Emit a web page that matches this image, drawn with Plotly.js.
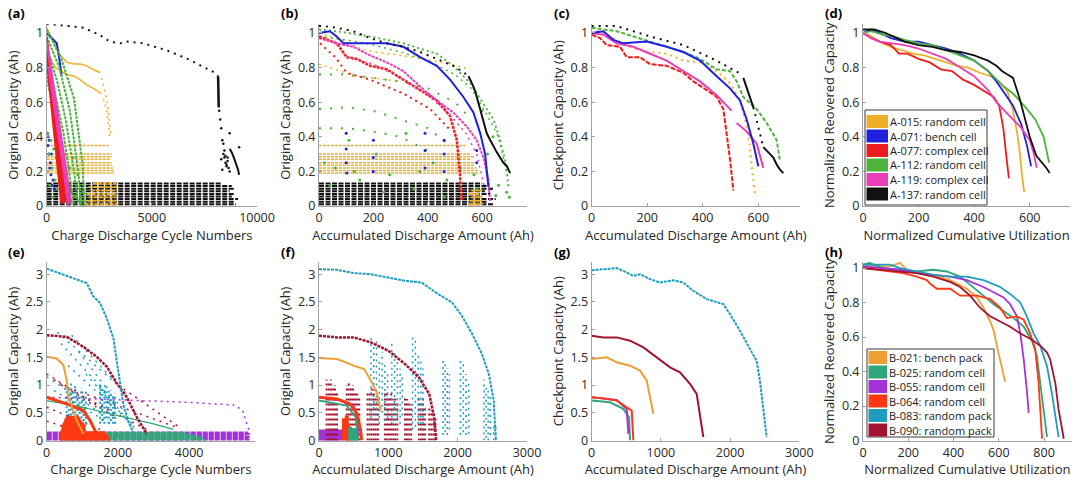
<!DOCTYPE html>
<html><head><meta charset="utf-8">
<script src="https://cdn.plot.ly/plotly-3.0.1.min.js"></script>
<style>html,body{margin:0;padding:0;background:#fff}#chart{width:1080px;height:486px}</style>
</head><body><div id="chart"></div>
<script>
// ---------- names & colours ----------
const cellNames = ['A-015: random cell','A-071: bench cell','A-077: complex cell','A-112: random cell','A-119: complex cell','A-137: random cell'];
const cellColors = ['#EDB027','#2020E0','#EE1C1C','#4DB33D','#EC3DB8','#111111'];
const packNames = ['B-021: bench pack','B-025: random cell','B-055: random cell','B-064: random cell','B-083: random pack','B-090: random pack'];
const packColors = ['#EF9E35','#2FA67A','#A332D8','#FF3814','#1E9DBF','#A3122E'];

// ---------- panel (a): original capacity vs cycle number ----------
const a137TopX = [0,200,1000,1750,2500,3000,3500,3800,4600,5700,6700,7500,8000,8150];
const a137TopY = [1.05,1.05,1.04,1.03,0.99,0.95,0.94,0.95,0.94,0.90,0.85,0.80,0.77,0.75];
const a137VertX = [8150,8160,8170,8180];
const a137VertY = [0.75,0.68,0.62,0.57];
const a137TailX = [8700,8800,8900,9000,9100,9150];
const a137TailY = [0.33,0.31,0.28,0.25,0.21,0.18];
const a137ScatX = [8200,8250,8300,8300,8350,8350,8400,8400,8450,8450,8500,8500,8550,8550,8600,8600,8650,8700,8700,9150];
const a137ScatY = [0.55,0.50,0.45,0.27,0.38,0.21,0.30,0.36,0.28,0.32,0.25,0.29,0.24,0.23,0.28,0.26,0.22,0.42,0.20,0.34];
const a137Levels = [0.01,0.025,0.04,0.055,0.07,0.085,0.10,0.115,0.13];
const a137Ends = [9000,8900,9100,8800,8950,8700,8900,8800,8300];
const a015C1X = [0,300,600,950,1300,1600,1900,2200,2540];
const a015C1Y = [1.03,0.95,0.88,0.83,0.82,0.82,0.81,0.79,0.77];
const a015D1X = [2600,2700,2800,2900,2950,3000,3050];
const a015D1Y = [0.74,0.70,0.65,0.58,0.52,0.46,0.42];
const a015C2X = [0,400,950,1300,1590,1900,2220,2600];
const a015C2Y = [0.90,0.80,0.76,0.75,0.73,0.70,0.68,0.65];
const a015D2X = [2700,2800,2850,2900,2950,3000];
const a015D2Y = [0.62,0.58,0.55,0.50,0.45,0.40];
const a015Levels = [0.35,0.30,0.285,0.27,0.25,0.235,0.22,0.205,0.19];
const a015Ends = [2950,3100,3100,3050,3100,3100,3150,3200,3200];
const a015LowLevels = [0.01,0.03,0.05,0.07,0.09,0.11,0.13];
const a015LowStarts = [1800,1900,2000,1900,2100,2000,2200];
const a015LowEnds = [3400,3350,3300,3400,3300,3350,3300];
const a071X = [0,250,480,600,714];
const a071Y = [1.0,0.97,0.94,0.85,0.75];
const a071PtsX = [30,60,100,150,200,250,80,120,180,220,300,350];
const a071PtsY = [0.42,0.35,0.30,0.22,0.18,0.12,0.40,0.38,0.25,0.30,0.15,0.10];
const a112L1X = [0,700,1300,1700,1800], a112L1Y = [1.02,0.85,0.62,0.25,0.0];
const a112L2X = [0,600,1100,1500,1650], a112L2Y = [0.98,0.80,0.55,0.20,0.0];
const a112L3X = [0,500,900,1300,1500], a112L3Y = [0.92,0.72,0.50,0.20,0.02];
const a112L4X = [0,400,800,1100,1300], a112L4Y = [0.85,0.65,0.42,0.18,0.0];
const a112L5X = [0,300,700,1000], a112L5Y = [0.75,0.55,0.30,0.05];
const a112PtsX = [50,120,200,260,330,400,450,520,600,650,720,800,880,950,1020,1100,1180,1250,1320,1400,1480,1550,1620,1700,150,300,500,700,900,1150,1350,1600];
const a112PtsY = [0.42,0.30,0.38,0.22,0.33,0.15,0.28,0.40,0.20,0.35,0.12,0.25,0.30,0.18,0.10,0.22,0.08,0.28,0.14,0.05,0.18,0.10,0.04,0.08,0.12,0.05,0.10,0.06,0.08,0.02,0.06,0.01];
const a077L1X = [0,300,600,900], a077L1Y = [0.97,0.66,0.33,0.02];
const a077L2X = [0,250,500,800], a077L2Y = [0.92,0.64,0.34,0.02];
const a077L3X = [0,200,450,700], a077L3Y = [0.86,0.62,0.32,0.02];
const a119L1X = [0,400,800,1150], a119L1Y = [0.95,0.62,0.30,0.02];
const a119L2X = [100,450,800,1050], a119L2Y = [0.80,0.50,0.20,0.0];

// ---------- panel (b): original capacity vs accumulated discharge ----------
const b137TopX = [0,16,65,126,188,249,310,372,433,494,543];
const b137TopY = [1.04,1.04,1.03,1.01,0.97,0.94,0.92,0.89,0.85,0.81,0.76];
const b137SolidX = [550,560,568,575,580,593,605,617,630,642,654,666,678,691,703];
const b137SolidY = [0.75,0.72,0.69,0.66,0.63,0.56,0.49,0.42,0.38,0.34,0.31,0.28,0.25,0.23,0.19];
const b137Ends = [640,620,650,600,630,610,640,620,600];
const b071X = [0,40,65,90,126,188,249,310,372,433,482,531,568,593,611,623];
const b071Y = [1.0,1.01,0.98,0.94,0.94,0.94,0.94,0.92,0.86,0.81,0.73,0.63,0.54,0.42,0.30,0.11];
const b071PtsX = [100,100,100,102,200,200,200,390,390,390,460,460,460,580,580];
const b071PtsY = [0.42,0.33,0.25,0.19,0.38,0.28,0.20,0.42,0.32,0.22,0.38,0.30,0.20,0.32,0.25];
const b077aX = [0,65,102,139,188,249,310,372,433,482,507,519,525];
const b077aY = [0.98,0.94,0.86,0.85,0.81,0.79,0.73,0.67,0.61,0.52,0.38,0.17,0.03];
const b077bX = [4,60,102,188,310,409,482];
const b077bY = [0.94,0.86,0.77,0.73,0.65,0.56,0.44];
const b119aX = [0,65,126,188,249,310,372,433,494,543,580,605,623,629];
const b119aY = [0.97,0.94,0.92,0.87,0.83,0.78,0.69,0.61,0.54,0.46,0.38,0.28,0.15,0.03];
const b119bX = [100,200,300,400,480,540,580,610];
const b119bY = [0.86,0.82,0.74,0.64,0.53,0.42,0.30,0.10];
const b112X = [0,65,188,310,433,494,556,605,642,666,685,697];
const b112Y = [1.02,1.01,0.98,0.94,0.88,0.81,0.71,0.59,0.50,0.38,0.26,0.11];
const b112BX = [0,100,200,300,400,500,560,620,660,690];
const b112BY = [0.98,0.96,0.93,0.89,0.84,0.76,0.68,0.52,0.40,0.20];
const b112Arc1X = [0,100,200,300,400,500,560], b112Arc1Y = [0.76,0.76,0.74,0.72,0.68,0.60,0.50];
const b112Arc2X = [0,100,200,300,400,480], b112Arc2Y = [0.56,0.57,0.55,0.50,0.45,0.35];
const b112Arc3X = [0,100,200,300,400], b112Arc3Y = [0.45,0.45,0.43,0.40,0.32];
const b112PtsX = [20,60,110,150,210,260,320,370,420,470,520,570,620,660,690,40,130,240,350,460,580,650,600,640,680,700];
const b112PtsY = [0.25,0.22,0.38,0.15,0.30,0.18,0.42,0.20,0.25,0.15,0.22,0.18,0.30,0.12,0.08,0.12,0.20,0.08,0.10,0.05,0.10,0.06,0.55,0.40,0.25,0.05];
const b015TopX = [0,100,163,250,350,450,556], b015TopY = [1.0,0.95,0.90,0.88,0.86,0.83,0.79];
const b015SecX = [0,60,126,200,300], b015SecY = [0.82,0.79,0.75,0.74,0.72];
const b015Ends = [540,560,570,560,575,570,580,590,590];
const b015LowLevels = [0.01,0.03,0.05,0.07,0.09];
const b015LowStarts = [550,555,560,550,560];
const b015LowEnds = [600,600,595,590,600];

// ---------- panel (c): checkpoint capacity ----------
const c137DotX = [0,90,210,330,450,540,null,582,600,618];
const c137DotY = [1.04,1.04,0.98,0.93,0.84,0.76,null,0.57,0.45,0.34];
const c137SolidX = [546,570,582,null,618,630,642,654,666,678,690];
const c137SolidY = [0.74,0.63,0.57,null,0.34,0.32,0.30,0.28,0.24,0.21,0.19];
const c112X = [0,90,210,330,390,450,498,522,546,594,630,666,678];
const c112Y = [1.03,1.01,0.95,0.89,0.85,0.79,0.78,0.72,0.63,0.56,0.48,0.38,0.26];
const c071X = [0,42,78,114,198,270,330,390,450,498,534,558,582,600];
const c071Y = [1.0,1.01,0.96,0.94,0.95,0.92,0.89,0.84,0.75,0.68,0.61,0.50,0.36,0.23];
const c119X = [0,42,90,150,210,270,330,390,450,504,null,522,558,594,618];
const c119Y = [1.0,0.99,0.94,0.92,0.88,0.84,0.78,0.72,0.64,0.55,null,0.48,0.43,0.36,0.22];
const c077X = [0,30,54,102,126,174,210,270,330,366,414,450,474,486,498,510];
const c077Y = [0.99,0.97,0.93,0.92,0.86,0.86,0.82,0.81,0.77,0.72,0.67,0.63,0.56,0.42,0.27,0.09];
const c015X = [0,90,150,210,270,330,390,450,498,534,558,570,576,588];
const c015Y = [1.03,0.96,0.91,0.89,0.88,0.84,0.83,0.78,0.71,0.61,0.46,0.34,0.23,0.07];

// ---------- panel (d): normalized ----------
const d015X = [0,30,60,100,140,180,220,260,300,340,380,420,460,490,520,540,555,565,572,580];
const d015Y = [1.0,0.98,0.95,0.92,0.90,0.88,0.87,0.85,0.83,0.81,0.80,0.77,0.75,0.72,0.66,0.55,0.42,0.30,0.18,0.08];
const d071X = [0,30,60,100,150,200,250,300,350,400,450,480,510,540,570,590,605];
const d071Y = [1.0,1.02,1.0,0.97,0.95,0.95,0.93,0.91,0.88,0.84,0.78,0.72,0.65,0.58,0.47,0.35,0.23];
const d077X = [0,30,60,100,130,160,200,240,280,320,360,400,440,470,490,505,515,525];
const d077Y = [1.0,0.97,0.95,0.93,0.88,0.88,0.85,0.83,0.79,0.78,0.73,0.70,0.66,0.63,0.58,0.45,0.30,0.16];
const d112X = [0,30,70,110,150,200,250,300,350,400,450,500,540,580,620,650,670];
const d112Y = [1.0,1.01,0.99,0.98,0.96,0.94,0.93,0.90,0.87,0.84,0.78,0.70,0.65,0.58,0.50,0.40,0.25];
const d119X = [0,30,60,100,150,200,250,300,350,400,450,480,510,540,570,600,615,625];
const d119Y = [1.0,0.97,0.95,0.94,0.93,0.91,0.88,0.85,0.80,0.75,0.67,0.60,0.55,0.50,0.45,0.38,0.30,0.22];
const d137X = [0,40,80,120,150,200,250,300,350,400,450,480,500,520,540,564,585,600,624,645,660,672];
const d137Y = [1.02,1.02,1.0,0.97,0.95,0.93,0.92,0.90,0.89,0.87,0.84,0.81,0.78,0.76,0.74,0.62,0.50,0.40,0.29,0.25,0.22,0.19];

// ---------- panel (e): packs, original capacity vs cycle ----------
const e083X = [0,375,750,1125,1310,1500,1690,1875,1970,2060,2155,2295,2435];
const e083Y = [3.10,3.01,2.93,2.84,2.60,2.48,2.20,1.84,1.42,1.00,0.64,0.34,0.13];
const e090X = [0,560,1030,1405,1690,1970,2250,2530,2810];
const e090Y = [1.90,1.87,1.69,1.51,1.33,1.03,0.78,0.42,0.12];
const e021X = [0,280,470,560,610,700,840,1030];
const e021Y = [1.51,1.48,1.36,1.09,0.78,0.60,0.36,0.12];
const e064X = [0,560,1030,1220,1400,1500];
const e064Y = [0.78,0.66,0.54,0.36,0.12,0.03];
const e055X = [0,2440,3940,5250,5500,5620,5715];
const e055Y = [0.78,0.72,0.69,0.64,0.55,0.30,0.12];
const e025X = [0,1000,2000,3000,3560];
const e025Y = [0.72,0.60,0.45,0.30,0.20];
const e055Levels = [0.015,0.04,0.065,0.09,0.115,0.14], e055Ends = [5700,5650,5700,5600,5700,5650];
const e025Levels = [0.01,0.035,0.06,0.085,0.11,0.135], e025Ends = [4450,4300,4400,4200,4000,3900];
const e064Levels = [0.02,0.06,0.10,0.14,0.18,0.22,0.26,0.30,0.34,0.38,0.42];
const e064Starts = [370,370,380,370,400,420,400,450,480,500,550];
const e064Ends = [1770,1750,1700,1650,1100,1080,1100,1050,1000,950,900];
const e083SegX0 = [300,700,0,600,900,200,1100,1500,400];
const e083SegY0 = [1.95,1.90,1.15,1.35,1.60,0.90,1.20,1.00,1.75];
const e083SegX1 = [2000,2300,1500,2400,2200,1800,2500,2400,1900];
const e083SegY1 = [1.00,0.80,0.50,0.30,0.50,0.30,0.20,0.25,0.70];
const e083ColX = [560,620,680,740,800,860,920,980,1040,1100,1500,1560,1620,1680,1740,1800,1860,1920];
const e083ColLo = [0.40,0.35,0.45,0.30,0.40,0.35,0.30,0.40,0.35,0.30,0.30,0.35,0.30,0.40,0.30,0.35,0.30,0.30];
const e083ColHi = [1.00,0.95,1.05,0.90,1.00,0.90,0.85,0.95,0.80,0.90,1.00,0.95,0.90,1.00,0.85,0.90,0.80,0.85];
const e090SegX0 = [0,0,400,2000,1000,0,200];
const e090SegY0 = [1.20,0.60,1.00,1.00,0.80,0.35,1.10];
const e090SegX1 = [2000,1500,3600,3700,2800,1200,1400];
const e090SegY1 = [0.40,0.20,0.25,0.25,0.20,0.10,0.60];

// ---------- panel (f): packs, original capacity vs discharge ----------
const f083X = [0,260,500,750,1000,1240,1480,1720,1920,2060,2210,2350,2450,2520,2550];
const f083Y = [3.09,3.08,3.02,3.00,2.94,2.88,2.85,2.64,2.49,2.25,1.92,1.56,1.20,0.72,0.0];
const f090X = [0,260,500,750,1000,1240,1440,1590,1660,1690];
const f090Y = [1.89,1.86,1.86,1.77,1.62,1.38,1.14,0.84,0.42,0.0];
const f021X = [0,260,500,650,750,840,890];
const f021Y = [1.49,1.47,1.35,1.29,1.08,0.84,0.54];
const f064X = [0,260,450,550,600,615];
const f064Y = [0.78,0.75,0.66,0.48,0.18,0.0];
const f025X = [0,400,530,560];
const f025Y = [0.72,0.63,0.42,0.0];
const f055X = [0,310,510,555,565];
const f055Y = [0.78,0.72,0.60,0.36,0.06];
const f055Levels = [0.02,0.05,0.08,0.11,0.14,0.17], f055End = 350;
const f064ColX = [360,380,400,420,440], f064ColHi = [0.40,0.35,0.45,0.30,0.25];
const f025ColX = [450,470,490,510,530,550], f025ColHi = [0.25,0.20,0.22,0.18,0.20,0.15];
const f090ColX = [110,140,170,200,230,260, 400,430,460,490,520,550,580, 700,730,760,790,820,850, 950,980,1010,1040,1070,1100,1130, 1240,1270,1300,1330, 1440,1470,1500,1530, 1590,1620,1650,1680];
const f090ColHi = [1.10,1.05,1.10,0.95,1.00,0.90, 1.00,1.05,0.95,1.00,0.90,0.85,0.80, 0.90,0.85,0.95,0.90,0.80,0.75, 0.90,0.85,0.80,0.90,0.75,0.80,0.70, 0.80,0.75,0.70,0.65, 0.80,0.70,0.75,0.60, 0.60,0.55,0.50,0.40];
const f083ColX = [750,790,830,870,910,950,990, 1050,1090,1130,1170,1200, 1350,1390,1430,1470,1500, 1790,1820,1850,1880, 2040,2080,2120,2160, 2380,2410,2440,2470, 2520,2550];
const f083ColLo = [0.40,0.35,0.45,0.30,0.50,0.35,0.40, 0.30,0.35,0.40,0.30,0.45, 0.20,0.25,0.30,0.20,0.30, 0.10,0.15,0.10,0.20, 0.10,0.15,0.10,0.12, 0.00,0.05,0.00,0.10, 0.00,0.00];
const f083ColHi = [1.90,1.70,1.80,1.50,1.60,1.40,1.20, 1.80,1.60,1.50,1.30,1.20, 1.90,1.80,1.60,1.50,1.30, 1.50,1.40,1.30,1.20, 1.50,1.40,1.20,1.10, 1.10,1.00,0.90,0.80, 0.30,0.25];

// ---------- panel (g): packs, checkpoint capacity ----------
const g083X = [0,217,361,506,602,698,843,987,1180,1324,1468,1661,1805,1902,1998,2142,2287,2383,2431,2480,2528];
const g083Y = [3.07,3.09,3.11,3.03,2.97,3.00,2.91,2.85,2.89,2.85,2.70,2.55,2.49,2.46,2.28,1.98,1.65,1.44,1.08,0.60,0.06];
const g090X = [0,169,361,554,747,940,1132,1276,1420,1517,1565,1613];
const g090Y = [1.89,1.86,1.86,1.80,1.68,1.50,1.32,1.23,1.02,0.84,0.48,0.06];
const g021X = [0,217,361,554,698,795,843,891];
const g021Y = [1.47,1.50,1.41,1.35,1.26,1.08,0.78,0.48];
const g064X = [0,169,361,506,578,602];
const g064Y = [0.78,0.76,0.72,0.60,0.54,0.0];
const g055X = [0,361,506,530];
const g055Y = [0.78,0.73,0.57,0.12];
const g025X = [0,265,457,540,554];
const g025Y = [0.72,0.69,0.57,0.42,0.0];

// ---------- panel (h): packs, normalized ----------
const h021X = [0,60,119,164,193,237,311,385,459,503,532,562,577,591,614,628];
const h021Y = [1.02,1.01,1.01,1.03,0.99,0.98,0.96,0.93,0.88,0.83,0.77,0.69,0.64,0.55,0.43,0.34];
const h025X = [0,29,90,164,237,311,370,429,488,532,577,621,665,710,746,768,783,798,813];
const h025Y = [1.02,1.03,1.0,0.99,0.98,0.99,0.98,0.95,0.89,0.84,0.79,0.75,0.71,0.66,0.58,0.49,0.33,0.18,0.02];
const h055X = [0,90,164,237,311,385,459,532,577,621,650,680,695,710,724,732];
const h055Y = [1.01,1.0,0.99,0.97,0.96,0.95,0.93,0.89,0.86,0.83,0.79,0.72,0.62,0.47,0.29,0.16];
const h064X = [0,60,119,178,237,282,296,326,385,429,503,562,606,635,680,710,739,761,776,783,791];
const h064Y = [1.0,0.99,0.98,0.97,0.95,0.93,0.91,0.88,0.88,0.84,0.84,0.82,0.77,0.71,0.72,0.70,0.62,0.53,0.33,0.18,0.01];
const h083X = [0,60,119,164,237,311,385,459,532,606,650,695,724,754,783,813,835,850,864];
const h083Y = [1.02,1.02,1.02,1.0,0.98,0.96,0.95,0.95,0.93,0.89,0.85,0.80,0.72,0.62,0.55,0.43,0.27,0.14,0.02];
const h090X = [0,90,164,237,311,385,429,473,517,562,606,650,695,739,783,813,827,850,864,887];
const h090Y = [1.0,0.99,0.98,0.97,0.95,0.92,0.89,0.84,0.77,0.72,0.69,0.66,0.62,0.59,0.55,0.51,0.47,0.33,0.18,0.01];

// ---------- helpers ----------
const traces = [];
function axn(p){ return p===1 ? ['x','y'] : ['x'+p,'y'+p]; }
function line(p, x, y, color, w, dash){
  const a = axn(p);
  traces.push({type:'scatter', mode:'lines', x:x, y:y, xaxis:a[0], yaxis:a[1],
    line:{color:color, width:w||1.5, dash:dash||'solid'}, showlegend:false, hoverinfo:'skip', connectgaps:false});
}
function pts(p, x, y, color, size){
  const a = axn(p);
  traces.push({type:'scatter', mode:'markers', x:x, y:y, xaxis:a[0], yaxis:a[1],
    marker:{color:color, size:size||3}, showlegend:false, hoverinfo:'skip'});
}
function hbands(p, levels, starts, ends, color, w, dash){
  const x=[], y=[];
  levels.forEach((lv,i)=>{
    const s = Array.isArray(starts)?starts[i]:starts, e = Array.isArray(ends)?ends[i]:ends;
    x.push(s,e,null); y.push(lv,lv,null);
  });
  line(p, x, y, color, w, dash);
}
function vcols(p, xs, lo, hi, color, w, dash){
  const x=[], y=[];
  xs.forEach((xv,i)=>{
    const l = Array.isArray(lo)?lo[i]:lo;
    x.push(xv,xv,null); y.push(l,hi[i],null);
  });
  line(p, x, y, color, w, dash);
}
function segs(p, x0, y0, x1, y1, color, w, dash){
  const x=[], y=[];
  x0.forEach((v,i)=>{ x.push(v,x1[i],null); y.push(y0[i],y1[i],null); });
  line(p, x, y, color, w, dash);
}
const DOT = '2px,4px';
const C = cellColors, K = packColors;

// ---------- (a) ----------
hbands(1, a137Levels, 0, a137Ends, C[5], 2, '5px,1.5px');
line(1, a137TopX, a137TopY, C[5], 2, '2px,5px');
line(1, a137VertX, a137VertY, C[5], 2.5);
line(1, a137TailX, a137TailY, C[5], 2);
pts(1, a137ScatX, a137ScatY, C[5], 2.5);
hbands(1, a015LowLevels, a015LowStarts, a015LowEnds, C[0], 2, '4px,1px');
hbands(1, a015Levels, 0, a015Ends, C[0], 1.5, '3px,1px');
line(1, a015C1X, a015C1Y, C[0], 1.5);
line(1, a015D1X, a015D1Y, C[0], 1.5, DOT);
line(1, a015C2X, a015C2Y, C[0], 1.5);
line(1, a015D2X, a015D2Y, C[0], 1.5, DOT);
line(1, a071X, a071Y, C[1], 2);
pts(1, a071PtsX, a071PtsY, C[1], 3);
[[a112L1X,a112L1Y],[a112L2X,a112L2Y],[a112L3X,a112L3Y],[a112L4X,a112L4Y],[a112L5X,a112L5Y]].forEach(s=>line(1, s[0], s[1], C[3], 2, '3px,1px'));
pts(1, a112PtsX, a112PtsY, C[3], 3);
[[a077L1X,a077L1Y],[a077L2X,a077L2Y],[a077L3X,a077L3Y]].forEach(s=>line(1, s[0], s[1], C[2], 2.5));
[[a119L1X,a119L1Y],[a119L2X,a119L2Y]].forEach(s=>line(1, s[0], s[1], C[4], 2.5));

// ---------- (b) ----------
hbands(2, a137Levels, 0, b137Ends, C[5], 2, '5px,1.5px');
hbands(2, b015LowLevels, b015LowStarts, b015LowEnds, C[0], 2);
hbands(2, a015Levels, 0, b015Ends, C[0], 1.5, '3px,1px');
line(2, b015TopX, b015TopY, C[0], 1.5, DOT);
line(2, b015SecX, b015SecY, C[0], 1.5, DOT);
line(2, b112X, b112Y, C[3], 2, '2px,3px');
line(2, b112BX, b112BY, C[3], 1.5, DOT);
[[b112Arc1X,b112Arc1Y],[b112Arc2X,b112Arc2Y],[b112Arc3X,b112Arc3Y]].forEach(s=>line(2, s[0], s[1], C[3], 2, '2px,9px'));
pts(2, b112PtsX, b112PtsY, C[3], 3);
pts(2, b071PtsX, b071PtsY, C[1], 3);
line(2, b077aX, b077aY, C[2], 2.5, '3px,1px');
line(2, b077bX, b077bY, C[2], 2, DOT);
line(2, b119aX, b119aY, C[4], 2, '3px,1px');
line(2, b119bX, b119bY, C[4], 1.5, DOT);
line(2, b071X, b071Y, C[1], 2);
line(2, b137TopX, b137TopY, C[5], 2, '2px,5px');
line(2, b137SolidX, b137SolidY, C[5], 2);

// ---------- (c) ----------
line(3, c015X, c015Y, C[0], 2, DOT);
line(3, c112X, c112Y, C[3], 2, '4px,2px');
line(3, c077X, c077Y, C[2], 2, '5px,1.5px');
line(3, c119X, c119Y, C[4], 2);
line(3, c071X, c071Y, C[1], 2);
line(3, c137DotX, c137DotY, C[5], 2, '2px,5px');
line(3, c137SolidX, c137SolidY, C[5], 2);

// ---------- (d) ----------
[[d015X,d015Y],[d071X,d071Y],[d077X,d077Y],[d112X,d112Y],[d119X,d119Y],[d137X,d137Y]].forEach((s,i)=>line(4, s[0], s[1], C[i], 1.8));

// ---------- (e) ----------
hbands(5, e055Levels, 0, e055Ends, K[2], 2.5, '5px,1px');
hbands(5, e025Levels, 500, e025Ends, K[1], 2.5, '5px,1px');
segs(5, e090SegX0, e090SegY0, e090SegX1, e090SegY1, K[5], 1.5, '2px,5px');
segs(5, e083SegX0, e083SegY0, e083SegX1, e083SegY1, K[4], 1.5, '2px,5px');
vcols(5, e083ColX, e083ColLo, e083ColHi, K[4], 2, '2px,3px');
hbands(5, e064Levels, e064Starts, e064Ends, K[3], 3);
line(5, e055X, e055Y, K[2], 1.5, DOT);
line(5, e025X, e025Y, K[1], 1.2);
line(5, e064X, e064Y, K[3], 3);
line(5, e021X, e021Y, K[0], 2);
line(5, e090X, e090Y, K[5], 2.5, '3px,1px');
line(5, e083X, e083Y, K[4], 2, '3px,1px');

// ---------- (f) ----------
hbands(6, f055Levels, 0, f055End, K[2], 3);
vcols(6, f090ColX, 0, f090ColHi, K[5], 2, '2px,3px');
vcols(6, f083ColX, f083ColLo, f083ColHi, K[4], 1.5, '2px,4px');
vcols(6, f064ColX, 0, f064ColHi, K[3], 4);
vcols(6, f025ColX, 0, f025ColHi, K[1], 4);
line(6, f055X, f055Y, K[2], 2);
line(6, f025X, f025Y, K[1], 2);
line(6, f064X, f064Y, K[3], 3);
line(6, f021X, f021Y, K[0], 2);
line(6, f090X, f090Y, K[5], 2.5, '3px,1px');
line(6, f083X, f083Y, K[4], 2, '3px,1px');

// ---------- (g) ----------
line(7, g083X, g083Y, K[4], 2, '3px,1px');
line(7, g090X, g090Y, K[5], 2);
line(7, g021X, g021Y, K[0], 2);
line(7, g025X, g025Y, K[1], 2);
line(7, g055X, g055Y, K[2], 2);
line(7, g064X, g064Y, K[3], 2);

// ---------- (h) ----------
[[h021X,h021Y],[h025X,h025Y],[h055X,h055Y],[h064X,h064Y],[h083X,h083Y],[h090X,h090Y]].forEach((s,i)=>line(8, s[0], s[1], K[i], 1.8));

// ---------- layout ----------
const FONT = 'Open Sans, Noto Sans, sans-serif';
const W = 1080, H = 486;
const topDom = [1-206/H, 1-24.3/H], botDom = [1-440.5/H, 1-262/H];
function xa(d0, d1, range, tickvals, title, anchor, ticktext){
  const o = {domain:[d0/W, d1/W], range:range, tickvals:tickvals, anchor:anchor,
    showline:true, linecolor:'#a0a0a0', linewidth:1, ticks:'inside', ticklen:3, tickcolor:'#a0a0a0',
    showgrid:false, zeroline:false, tickfont:{size:12.5, color:'#262626', family:FONT},
    title:{text:title, font:{size:13, color:'#262626', family:FONT}, standoff:2}, automargin:false};
  if (ticktext) o.ticktext = ticktext;
  return o;
}
function ya(dom, range, tickvals, title, anchor){
  return {domain:dom, range:range, tickvals:tickvals, anchor:anchor,
    showline:true, linecolor:'#a0a0a0', linewidth:1, ticks:'inside', ticklen:3, tickcolor:'#a0a0a0',
    showgrid:false, zeroline:false, tickfont:{size:12.5, color:'#262626', family:FONT},
    title:{text:title, font:{size:13, color:'#262626', family:FONT}, standoff:4}, automargin:false};
}
const t1 = [0,0.2,0.4,0.6,0.8,1];
const t3 = [0,0.5,1,1.5,2,2.5,3];

// manual legends (box + colour bars + text), positioned in pixels
const shapes = [], annotations = [];
function legendBox(names, colors, box, firstY, step, barX0, barX1, textX){
  shapes.push({type:'rect', xref:'paper', yref:'paper', x0:box[0]/W, x1:box[1]/W, y0:1-box[3]/H, y1:1-box[2]/H,
    line:{color:'#3a3a3a', width:1}, fillcolor:'#ffffff', layer:'above'});
  names.forEach((n,i)=>{
    const cy = firstY + i*step;
    shapes.push({type:'rect', xref:'paper', yref:'paper', x0:barX0/W, x1:barX1/W, y0:1-(cy+6.5)/H, y1:1-(cy-6.5)/H,
      line:{width:0}, fillcolor:colors[i], layer:'above'});
    annotations.push({text:n, x:textX/W, y:1-cy/H, xref:'paper', yref:'paper', xanchor:'left', yanchor:'middle',
      showarrow:false, font:{size:11, color:'#1a1a1a', family:FONT}});
  });
}
legendBox(cellNames, C, [865,987,110,205], 121.5, 14.5, 866.5, 888, 887.5);
legendBox(packNames, K, [867,994,349,437], 357.5, 14.5, 868.5, 887, 886.5);
[['(a)',6,13],['(b)',279,13],['(c)',552,13],['(d)',823,13],
 ['(e)',6,252],['(f)',279,252],['(g)',552,252],['(h)',823,252]].forEach(a=>annotations.push({
    text:'<b>'+a[0]+'</b>', x:a[1]/W, y:1-a[2]/H, xref:'paper', yref:'paper', xanchor:'left', yanchor:'middle',
    showarrow:false, font:{size:13, color:'#000', family:FONT}}));

const layout = {
  width:W, height:H, margin:{l:0,r:0,t:0,b:0}, paper_bgcolor:'#fff', plot_bgcolor:'rgba(0,0,0,0)',
  font:{family:FONT, color:'#262626'}, showlegend:false,
  xaxis:  xa(46.7,257,[0,10000],[0,5000,10000],'Charge Discharge Cycle Numbers','y',['0','5000','10000']),
  yaxis:  ya(topDom,[0,1.05],t1,'Original Capacity (Ah)','x'),
  xaxis2: xa(319,527,[0,765],[0,200,400,600],'Accumulated Discharge Amount (Ah)','y2'),
  yaxis2: ya(topDom,[0,1.05],t1,'Original Capacity (Ah)','x2'),
  xaxis3: xa(591.7,800,[0,750],[0,200,400,600],'Accumulated Discharge Amount (Ah)','y3'),
  yaxis3: ya(topDom,[0,1.05],t1,'Checkpoint Capacity (Ah)','x3'),
  xaxis4: xa(863,1070,[0,745],[0,200,400,600],'Normalized Cumulative Utilization','y4'),
  yaxis4: ya(topDom,[0,1.05],t1,'Normalized Reovered Capacity','x4'),
  xaxis5: xa(46.7,255,[0,5850],[0,2000,4000],'Charge Discharge Cycle Numbers','y5'),
  yaxis5: ya(botDom,[0,3.22],t3,'Original Capacity (Ah)','x5'),
  xaxis6: xa(319,527,[0,3000],[0,1000,2000,3000],'Accumulated Discharge Amount (Ah)','y6'),
  yaxis6: ya(botDom,[0,3.22],t3,'Original Capacity (Ah)','x6'),
  xaxis7: xa(591.7,799.3,[0,3000],[0,1000,2000,3000],'Accumulated Discharge Amount (Ah)','y7'),
  yaxis7: ya(botDom,[0,3.22],t3,'Checkpoint Capacity (Ah)','x7'),
  xaxis8: xa(863,1071.7,[0,922],[0,200,400,600,800],'Normalized Cumulative Utilization','y8'),
  yaxis8: ya(botDom,[0,1.035],t1,'Normalized Reovered Capacity','x8'),
  shapes: shapes,
  annotations: annotations
};
Plotly.newPlot('chart', traces, layout, {staticPlot:true, displayModeBar:false});
</script></body></html>
